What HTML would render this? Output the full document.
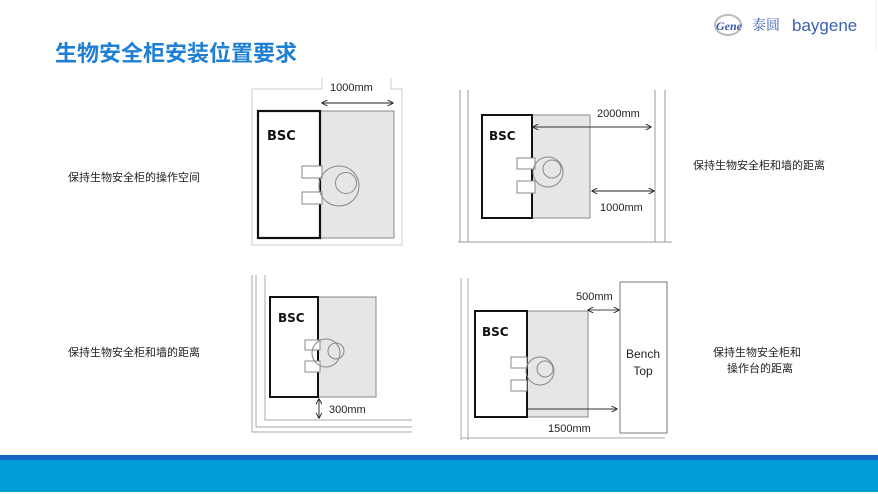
<!DOCTYPE html>
<html><head><meta charset="utf-8"><style>
body{margin:0;width:878px;height:494px;background:#fff;overflow:hidden;font-family:"Liberation Sans","Noto Sans CJK SC",sans-serif;}
</style></head><body>
<svg width="878" height="494" xmlns="http://www.w3.org/2000/svg" style="position:absolute;left:0;top:0">
<defs>
<marker id="a" viewBox="0 0 10 10" refX="9" refY="5" markerWidth="6" markerHeight="6" orient="auto-start-reverse"><path d="M0 0L10 5L0 10" fill="none" stroke="#222" stroke-width="1.5"/></marker>
</defs>
<text x="55" y="61" font-size="22" font-weight="bold" fill="#1f7fd4" font-family="Liberation Sans,Noto Sans CJK SC,sans-serif">生物安全柜安装位置要求</text>
<ellipse cx="728" cy="25" rx="13" ry="10" fill="none" stroke="#bbb" stroke-width="2"/>
<text x="716" y="30" font-size="12" font-style="italic" font-weight="bold" fill="#3a5fb0" font-family="Liberation Serif,serif">Gene</text>
<text x="752" y="30" font-size="14" fill="#3a5fb0" font-family="Noto Serif CJK SC,serif">泰圆</text>
<text x="792" y="31" font-size="17" fill="#3a5fb0" font-family="Liberation Sans,sans-serif">baygene</text>
<line x1="876" y1="0" x2="876" y2="50" stroke="#eee"/>
<rect x="0" y="455" width="878" height="5" fill="#1466c0"/>
<rect x="0" y="460" width="878" height="32" fill="#009ed8"/>
<g font-family="Liberation Sans,Noto Sans CJK SC,sans-serif" font-size="11" fill="#222">
<text x="68" y="181">保持生物安全柜的操作空间</text>
<text x="693" y="169">保持生物安全柜和墙的距离</text>
<text x="68" y="356">保持生物安全柜和墙的距离</text>
<text x="713" y="356">保持生物安全柜和</text>
<text x="727" y="372">操作台的距离</text>
</g>
<g fill="none" stroke="#888" stroke-width="1">
<path d="M322 78V89H252V245H402V89H391V78" stroke="#ccc"/>
<rect x="320" y="111" width="74" height="127" fill="#e6e6e6"/>
<rect x="258" y="111" width="62" height="127" stroke="#111" stroke-width="2.2" fill="#fff"/>
<rect x="302" y="166" width="20" height="12" fill="#fff"/>
<rect x="302" y="192" width="20" height="12" fill="#fff"/>
<circle cx="339" cy="186" r="20"/><circle cx="346" cy="183" r="10.5"/>
<line x1="322" y1="103" x2="393" y2="103" stroke="#222" marker-start="url(#a)" marker-end="url(#a)"/>
<path d="M460 90V242 M468 90V242 M655 90V242 M665 90V242 M458 242H672" stroke="#999"/>
<rect x="532" y="115" width="58" height="103" fill="#e6e6e6"/>
<rect x="482" y="115" width="50" height="103" stroke="#111" stroke-width="2" fill="#fff"/>
<rect x="517" y="158" width="18" height="11" fill="#fff"/>
<rect x="517" y="181" width="18" height="12" fill="#fff"/>
<circle cx="548" cy="172" r="15"/><circle cx="552" cy="169" r="9"/>
<line x1="533" y1="127" x2="651" y2="127" stroke="#333" marker-start="url(#a)" marker-end="url(#a)"/>
<line x1="592" y1="191" x2="654" y2="191" stroke="#222" marker-start="url(#a)" marker-end="url(#a)"/>
<path d="M252 275V432H412 M256 275V427H412 M265 275V420H412" stroke="#aaa"/>
<rect x="318" y="297" width="58" height="100" fill="#e6e6e6"/>
<rect x="270" y="297" width="48" height="100" stroke="#111" stroke-width="2" fill="#fff"/>
<rect x="305" y="340" width="15" height="10" fill="#fff"/>
<rect x="305" y="361" width="15" height="11" fill="#fff"/>
<circle cx="326" cy="353" r="14"/><circle cx="336" cy="351" r="8"/>
<line x1="319" y1="399" x2="319" y2="418" stroke="#333" marker-start="url(#a)" marker-end="url(#a)"/>
<path d="M461 278V440 M468 278V440 M461 438H665" stroke="#aaa"/>
<rect x="527" y="311" width="61" height="106" fill="#e6e6e6"/>
<rect x="475" y="311" width="52" height="106" stroke="#111" stroke-width="2" fill="#fff"/>
<rect x="511" y="357" width="16" height="11" fill="#fff"/>
<rect x="511" y="380" width="16" height="11" fill="#fff"/>
<circle cx="540" cy="371" r="14"/><circle cx="545" cy="369" r="8"/>
<rect x="620" y="282" width="47" height="151" stroke="#777" fill="#fff"/>
<line x1="588" y1="310" x2="619" y2="310" stroke="#444" marker-start="url(#a)" marker-end="url(#a)"/>
<line x1="528" y1="409" x2="617" y2="409" stroke="#333" marker-end="url(#a)"/>
</g>
<g fill="#222" font-family="Liberation Sans,sans-serif" font-size="11">
<text x="330" y="91">1000mm</text>
<text x="597" y="117">2000mm</text>
<text x="600" y="211">1000mm</text>
<text x="329" y="413">300mm</text>
<text x="576" y="300">500mm</text>
<text x="548" y="432">1500mm</text>
<text x="643" y="358" text-anchor="middle" font-size="12">Bench</text>
<text x="643" y="375" text-anchor="middle" font-size="12">Top</text>
</g>
<g fill="#111" font-family="DejaVu Sans,sans-serif" font-weight="bold" font-size="12">
<text x="267" y="140" font-size="13">BSC</text>
<text x="489" y="140">BSC</text>
<text x="278" y="322">BSC</text>
<text x="482" y="336">BSC</text>
</g>
</svg>
</body></html>
